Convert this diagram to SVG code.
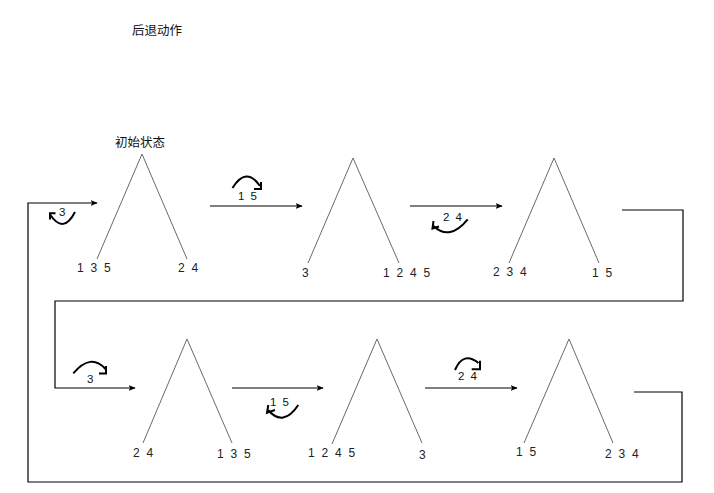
<svg xmlns="http://www.w3.org/2000/svg" width="714" height="493" viewBox="0 0 714 493">
<style>
.tri{fill:none;stroke:#6a6a6a;stroke-width:1}
.num{font-family:"Liberation Sans",Arial,sans-serif;font-size:12px;fill:#222;word-spacing:3.5px}
.cn{font-family:"Noto Sans CJK SC",sans-serif;font-size:12.5px;fill:#111}
.con{fill:none;stroke:#000;stroke-width:1.2}
.rot{fill:none;stroke:#000;stroke-width:2}
.rn{font-family:"Liberation Sans",Arial,sans-serif;font-size:11.5px;fill:#111;word-spacing:3px}
</style>
<defs>
<marker id="ah" viewBox="0 0 10 10" refX="9" refY="5" markerWidth="7" markerHeight="7" markerUnits="userSpaceOnUse" orient="auto">
<path d="M0,1 L10,5 L0,9 L2,5 Z" fill="#000"/>
</marker>
</defs>
<rect width="714" height="493" fill="#fff"/>
<text class="cn" x="132" y="35">后退动作</text>

<g id="connectors">
<path class="con" d="M634,392 H682 V482 H28 V203 H97" marker-end="url(#ah)"/>
<path class="con" d="M210,206 H302" marker-end="url(#ah)"/>
<path class="con" d="M410,206 H502" marker-end="url(#ah)"/>
<path class="con" d="M622,210 H683 V301 H55 V388 H135" marker-end="url(#ah)"/>
<path class="con" d="M232,388 H323" marker-end="url(#ah)"/>
<path class="con" d="M425,388 H517" marker-end="url(#ah)"/>
</g>

<g id="rot1">
<path class="rot" d="M75,212 Q63.5,234.5 50,214.5"/>
<path class="rot" d="M55.5,213.3 H50 V219.5"/>
<text class="rn" x="59" y="216">3</text>
</g>
<g id="rot2">
<path class="rot" d="M232.5,188 Q246,166 260,186"/>
<path class="rot" d="M261,182 V189 H254"/>
<text class="rn" x="238" y="200">1 5</text>
</g>
<g id="rot3">
<path class="rot" d="M467.7,219.3 Q449.6,241.3 433.5,226"/>
<path class="rot" d="M433.5,221 L432.5,228.5 L439,226.5"/>
<text class="rn" x="443" y="221">2 4</text>
</g>
<g id="rot4">
<path class="rot" d="M73.3,373.3 Q90.9,352.6 105.5,369"/>
<path class="rot" d="M106,366 V373.5 H99"/>
<text class="rn" x="87" y="383">3</text>
</g>
<g id="rot5">
<path class="rot" d="M298.3,405 Q283.2,427.5 268,410"/>
<path class="rot" d="M268.3,405 L267,412.7 L275,410"/>
<text class="rn" x="270" y="406">1 5</text>
</g>
<g id="rot6">
<path class="rot" d="M455,370 Q463.3,350.8 478.5,363"/>
<path class="rot" d="M480,360.7 V369.3 H471.7"/>
<text class="rn" x="458" y="380">2 4</text>
</g>

<g id="state0">
<text class="cn" x="115" y="147">初始状态</text>
<polyline class="tri" points="97,259 142,154 187,259"/>
<text class="num" x="77" y="272" xml:space="preserve">1 3 5</text>
<text class="num" x="178" y="272" xml:space="preserve">2 4</text>
</g>
<g id="state1">
<polyline class="tri" points="308,263 353,158 399,263"/>
<text class="num" x="302" y="277" xml:space="preserve">3</text>
<text class="num" x="383" y="277" xml:space="preserve">1 2 4 5</text>
</g>
<g id="state2">
<polyline class="tri" points="509,263 554,158 599,263"/>
<text class="num" x="493" y="276" xml:space="preserve">2 3 4</text>
<text class="num" x="592" y="277" xml:space="preserve">1 5</text>
</g>
<g id="state3">
<polyline class="tri" points="143,443 187,339 232,443"/>
<text class="num" x="133" y="457" xml:space="preserve">2 4</text>
<text class="num" x="217" y="458" xml:space="preserve">1 3 5</text>
</g>
<g id="state4">
<polyline class="tri" points="332,444 377,339 422,443"/>
<text class="num" x="308" y="457" xml:space="preserve">1 2 4 5</text>
<text class="num" x="419" y="459" xml:space="preserve">3</text>
</g>
<g id="state5">
<polyline class="tri" points="524,443 569,339 613,443"/>
<text class="num" x="516" y="456" xml:space="preserve">1 5</text>
<text class="num" x="605" y="458" xml:space="preserve">2 3 4</text>
</g>
</svg>
